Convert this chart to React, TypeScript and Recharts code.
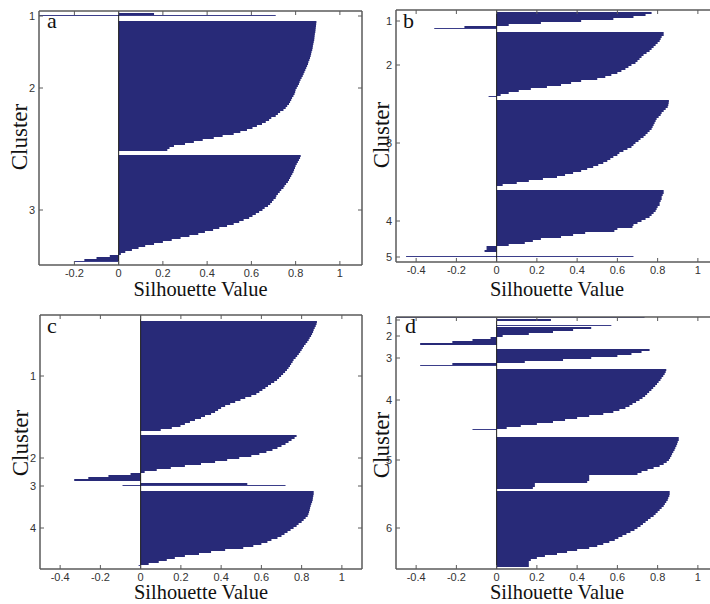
import React from 'react';
import { BarChart, Bar, XAxis, YAxis, ReferenceLine } from 'recharts';

// a row is: a silhouette value (filled bar), null (gap between clusters),
// or [lo, hi] for the hairline rows matlab draws for single points
type Seg = number | null | [number, number];

const NAVY = '#282a78';
const THIN = '#3b3e8a';
const AXIS = '#5a5a5a';
const TICK_TEXT = '#333333';
const SANS = '"Liberation Sans", Arial, sans-serif';
const SERIF = '"Liberation Serif", "Times New Roman", serif';

// ---- panel a ----
const A_C2 = [
  0.894, 0.893, 0.892, 0.891, 0.89, 0.889, 0.887, 0.886, 0.885, 0.884,
  0.882, 0.88, 0.878, 0.877, 0.875, 0.872, 0.87, 0.868, 0.865, 0.862,
  0.858, 0.856, 0.852, 0.848, 0.844, 0.84, 0.836, 0.832, 0.827, 0.822,
  0.818, 0.815, 0.81, 0.805, 0.8, 0.798, 0.795, 0.79, 0.784, 0.78,
  0.775, 0.77, 0.762, 0.755, 0.745, 0.73, 0.72, 0.71, 0.69, 0.68,
  0.665, 0.648, 0.625, 0.605, 0.58, 0.55, 0.52, 0.47, 0.43, 0.38,
  0.34, 0.3, 0.25, 0.23, 0.22,
];
const A_C3 = [
  0.823, 0.82, 0.815, 0.81, 0.805, 0.8, 0.797, 0.793, 0.79, 0.785,
  0.78, 0.775, 0.77, 0.765, 0.757, 0.75, 0.745, 0.735, 0.728, 0.72,
  0.713, 0.71, 0.7, 0.693, 0.685, 0.675, 0.66, 0.65, 0.635, 0.62,
  0.605, 0.59, 0.565, 0.545, 0.52, 0.49, 0.455, 0.427, 0.39, 0.36,
  0.32, 0.28, 0.24, 0.2, 0.16, 0.12, 0.09, 0.06, 0.03, 0.01,
];
const A_ROWS: Seg[] = [
  null, 0.16, [-0.36, 0.71], null, null,
  ...A_C2, null, null,
  ...A_C3, -0.04, -0.1, -0.155, [-0.2, 0], null,
];
const A_YTICKS: Record<number, string> = { 2: '1', 38: '2', 99: '3' };

// ---- panel b ----
const B_C1 = [0.77, 0.74, 0.68, 0.58, 0.42, 0.22, 0.06];
const B_C2 = [
  0.83, 0.83, 0.82, 0.815, 0.81, 0.8, 0.79, 0.78, 0.77, 0.76,
  0.745, 0.73, 0.72, 0.71, 0.7, 0.69, 0.67, 0.655, 0.64, 0.62,
  0.6, 0.57, 0.54, 0.5, 0.42, 0.37, 0.32, 0.25, 0.17, 0.11,
  0.06, 0.02,
];
const B_C3 = [
  0.856, 0.855, 0.853, 0.85, 0.84, 0.83, 0.82, 0.815, 0.805, 0.795,
  0.79, 0.785, 0.78, 0.775, 0.77, 0.76, 0.75, 0.74, 0.73, 0.715,
  0.705, 0.69, 0.68, 0.67, 0.65, 0.63, 0.61, 0.6, 0.58, 0.565,
  0.55, 0.53, 0.505, 0.48, 0.45, 0.42, 0.38, 0.34, 0.3, 0.23,
  0.16, 0.1, 0.03,
];
const B_C4 = [
  0.83, 0.83, 0.825, 0.82, 0.82, 0.815, 0.81, 0.81, 0.8, 0.795,
  0.79, 0.78, 0.77, 0.76, 0.74, 0.72, 0.7, 0.68, 0.675, 0.6,
  0.585, 0.44, 0.38, 0.32, 0.22, 0.18, 0.14, 0.06,
];
const B_ROWS: Seg[] = [
  null, ...B_C1, -0.16, [-0.31, 0], null,
  ...B_C2, [-0.04, 0], null,
  ...B_C3, null, null,
  ...B_C4, -0.05, -0.05, -0.06, null, null,
  [-0.45, 0.68], null, null,
];
const B_YTICKS: Record<number, string> = { 5: '1', 27: '2', 66: '3', 105: '4', 123: '5' };

// ---- panel c ----
const C_C1 = [
  0.876, 0.874, 0.87, 0.865, 0.86, 0.857, 0.852, 0.847, 0.84, 0.835,
  0.828, 0.82, 0.812, 0.806, 0.8, 0.793, 0.786, 0.778, 0.77, 0.76,
  0.755, 0.748, 0.742, 0.735, 0.727, 0.718, 0.708, 0.698, 0.688, 0.678,
  0.664, 0.648, 0.633, 0.62, 0.605, 0.59, 0.575, 0.55, 0.52, 0.496,
  0.47, 0.445, 0.42, 0.4, 0.385, 0.37, 0.35, 0.32, 0.3, 0.27,
  0.245, 0.22, 0.198, 0.155, 0.1,
];
const C_C2 = [
  0.775, 0.765, 0.75, 0.735, 0.72, 0.7, 0.68, 0.655, 0.625, 0.59,
  0.55, 0.49, 0.43, 0.37, 0.3, 0.22, 0.15, 0.08, 0.02,
  -0.05, -0.16, -0.26, -0.33,
];
const C_C4 = [
  0.86, 0.86, 0.858, 0.856, 0.855, 0.852, 0.848, 0.845, 0.842, 0.84,
  0.837, 0.834, 0.83, 0.82, 0.81, 0.8, 0.785, 0.775, 0.76, 0.745,
  0.73, 0.715, 0.7, 0.68, 0.65, 0.63, 0.6, 0.56, 0.51, 0.42,
  0.35, 0.29, 0.22, 0.17, 0.13, 0.09, 0.04,
];
const C_ROWS: Seg[] = [
  null, null, null, ...C_C1, null, null,
  ...C_C2, null, 0.53, [-0.09, 0.72], null, null,
  ...C_C4, [-0.01, 0], null,
];
const C_YTICKS: Record<number, string> = { 30: '1', 71: '2', 85: '3', 106: '4' };

// ---- panel d ----
const D_C2 = [0.47, 0.38, 0.28, 0.16, 0.03, -0.03, -0.12, -0.22, -0.38];
const D_C3 = [0.76, 0.72, 0.67, 0.6, 0.47, 0.33, 0.14, -0.22];
const D_C4 = [
  0.843, 0.84, 0.835, 0.828, 0.82, 0.814, 0.805, 0.797, 0.788, 0.778,
  0.769, 0.758, 0.748, 0.738, 0.725, 0.71, 0.693, 0.675, 0.66, 0.64,
  0.61, 0.58, 0.53, 0.46, 0.4, 0.34, 0.28, 0.2, 0.12, 0.05,
];
const D_C5 = [
  0.905, 0.905, 0.9, 0.897, 0.893, 0.888, 0.884, 0.878, 0.872, 0.868,
  0.862, 0.856, 0.845, 0.83, 0.81, 0.78, 0.75, 0.72, 0.7, 0.46,
  0.46, 0.46, 0.45, 0.19, 0.19, 0.18,
];
const D_C6 = [
  0.86, 0.86, 0.858, 0.853, 0.85, 0.843, 0.836, 0.83, 0.82, 0.81,
  0.8, 0.79, 0.78, 0.765, 0.752, 0.74, 0.727, 0.715, 0.7, 0.685,
  0.665, 0.645, 0.625, 0.605, 0.587, 0.56, 0.53, 0.5, 0.46, 0.4,
  0.35, 0.3, 0.24, 0.2, 0.17, 0.16, 0.16, 0.16,
];
const D_ROWS: Seg[] = [
  [-0.5, 0.735], 0.27, null, null,
  [0, 0.57], ...D_C2, null, null,
  ...D_C3, [-0.38, 0], null,
  ...D_C4, [-0.12, 0], null, null, null,
  ...D_C5, null,
  ...D_C6, null,
];
const D_YTICKS: Record<number, string> = { 1: '1', 9: '2', 20: '3', 41: '4', 71: '5', 105: '6' };

const X_TICKS_A = [-0.2, 0, 0.2, 0.4, 0.6, 0.8, 1];
const X_TICKS = [-0.4, -0.2, 0, 0.2, 0.4, 0.6, 0.8, 1];

const toTable = (rows: Seg[]) =>
  rows.map((v, i) => {
    if (v === null) return { row: i, range: null, thin: false };
    if (Array.isArray(v)) return { row: i, range: v, thin: true };
    return { row: i, range: v >= 0 ? [0, v] : [v, 0], thin: false };
  });

const RowShape = (p: any) => {
  const { x, y, width, height, payload } = p;
  if (!payload || !payload.range || !isFinite(x) || !isFinite(width)) return <g />;
  const x0 = Math.min(x, x + width);
  const w = Math.abs(width);
  if (payload.thin) return <rect x={x0} y={y} width={w} height={1} fill={THIN} />;
  return <rect x={x0} y={y} width={w} height={height} fill={NAVY} />;
};

interface PanelProps {
  rows: Seg[];
  yTicks: Record<number, string>;
  domain: [number, number];
  xTicks: number[];
  left: number;
  top: number;
  width: number;
  height: number;
}

const Panel = ({ rows, yTicks, domain, xTicks, left, top, width, height }: PanelProps) => {
  const data = toTable(rows);
  const axisLine = { stroke: AXIS, strokeWidth: 1.5 };

  const leftTick = (p: any) => {
    const label = yTicks[p.payload.value];
    if (label === undefined) return <g />;
    return (
      <g>
        <line x1={p.x} x2={p.x + 4} y1={p.y} y2={p.y} stroke={AXIS} />
        <text x={p.x - 4} y={p.y + 4} textAnchor="end" fontSize={11} fill={TICK_TEXT} fontFamily={SANS}>
          {label}
        </text>
      </g>
    );
  };
  const rightTick = (p: any) =>
    yTicks[p.payload.value] === undefined ? <g /> : <line x1={p.x} x2={p.x - 4} y1={p.y} y2={p.y} stroke={AXIS} />;
  const bottomTick = (p: any) => (
    <g>
      <line x1={p.x} x2={p.x} y1={p.y} y2={p.y - 4} stroke={AXIS} />
      <text x={p.x} y={p.y + 12} textAnchor="middle" fontSize={11} fill={TICK_TEXT} fontFamily={SANS}>
        {String(p.payload.value)}
      </text>
    </g>
  );
  const topTick = (p: any) => <line x1={p.x} x2={p.x} y1={p.y} y2={p.y + 4} stroke={AXIS} />;

  return (
    <div style={{ position: 'absolute', left: left - 30, top: top - 2 }}>
      <BarChart
        width={30 + width + 2}
        height={2 + height + 22}
        data={data}
        layout="vertical"
        margin={{ top: 0, right: 0, bottom: 0, left: 0 }}
        barCategoryGap={0}
        barGap={0}
      >
        <XAxis type="number" domain={domain} ticks={xTicks} allowDataOverflow height={22}
          axisLine={axisLine} tickLine={false} tickSize={0} tickMargin={0} tick={bottomTick} interval={0} />
        <XAxis xAxisId="t" orientation="top" type="number" domain={domain} ticks={xTicks} allowDataOverflow height={2}
          axisLine={axisLine} tickLine={false} tickSize={0} tickMargin={0} tick={topTick} interval={0} />
        <YAxis type="category" dataKey="row" width={30} interval={0}
          axisLine={axisLine} tickLine={false} tickSize={0} tickMargin={0} tick={leftTick} />
        <YAxis yAxisId="r" orientation="right" type="category" dataKey="row" width={2} interval={0}
          axisLine={axisLine} tickLine={false} tickSize={0} tickMargin={0} tick={rightTick} />
        <Bar dataKey="range" isAnimationActive={false} shape={RowShape} />
        <ReferenceLine x={0} stroke="#1a1a1a" strokeWidth={1} />
      </BarChart>
    </div>
  );
};

const TITLES = [
  { cx: 200.5, y: 296 },
  { cx: 557, y: 296 },
  { cx: 201, y: 599 },
  { cx: 557, y: 599 },
];
const CLUSTER_LABELS = [
  { x: 27, y: 137 },
  { x: 388.5, y: 135 },
  { x: 28, y: 443 },
  { x: 388.5, y: 445 },
];
const LETTERS = [
  { t: 'a', x: 47, y: 28 },
  { t: 'b', x: 403, y: 28 },
  { t: 'c', x: 47, y: 333 },
  { t: 'd', x: 405, y: 333 },
];

export default function App() {
  return (
    <div style={{ position: 'absolute', left: 0, top: 0, width: 710, height: 604, overflow: 'hidden', background: '#fff' }}>
      <Panel rows={A_ROWS} yTicks={A_YTICKS} domain={[-0.36, 1.1]} xTicks={X_TICKS_A} left={39} top={11} width={323} height={254} />
      <Panel rows={B_ROWS} yTicks={B_YTICKS} domain={[-0.5, 1.1]} xTicks={X_TICKS} left={396} top={10} width={322} height={252} />
      <Panel rows={C_ROWS} yTicks={C_YTICKS} domain={[-0.5, 1.1]} xTicks={X_TICKS} left={40} top={315} width={322} height={254} />
      <Panel rows={D_ROWS} yTicks={D_YTICKS} domain={[-0.5, 1.1]} xTicks={X_TICKS} left={396} top={317} width={322} height={252} />
      <svg width={710} height={604} style={{ position: 'absolute', left: 0, top: 0, pointerEvents: 'none' }}>
        {TITLES.map((t, i) => (
          <text key={'t' + i} x={t.cx} y={t.y} textAnchor="middle" fontFamily={SERIF} fontSize={22} fill="#111"
            textLength={134} lengthAdjust="spacingAndGlyphs">
            Silhouette Value
          </text>
        ))}
        {CLUSTER_LABELS.map((c, i) => (
          <text key={'c' + i} transform={`translate(${c.x},${c.y}) rotate(-90)`} textAnchor="middle"
            fontFamily={SERIF} fontSize={23} fill="#111">
            Cluster
          </text>
        ))}
        {LETTERS.map((l) => (
          <text key={l.t} x={l.x} y={l.y} fontFamily={SERIF} fontSize={22} fill="#111">
            {l.t}
          </text>
        ))}
      </svg>
    </div>
  );
}
